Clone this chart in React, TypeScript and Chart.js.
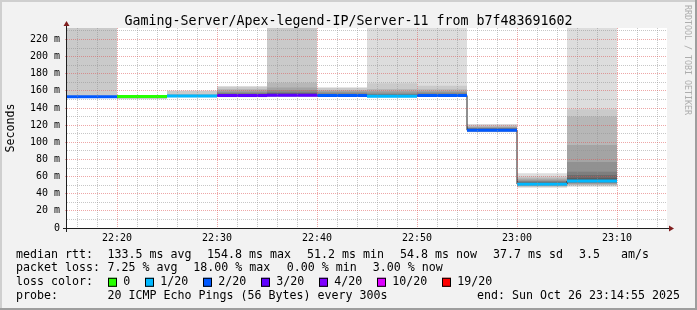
import React, { useEffect, useRef } from 'react';
import { Chart, registerables } from 'chart.js';

Chart.register(...registerables);

// ---------------- data ----------------
const title = 'Gaming-Server/Apex-legend-IP/Server-11 from b7f483691602';
const yAxisTitle = 'Seconds';
const watermark = 'RRDTOOL / TOBI OETIKER';

const axisStart = '22:15';
const axisEnd = '23:15';
const stepMinutes = 5;
const stepStarts = ['22:15', '22:20', '22:25', '22:30', '22:35', '22:40', '22:45', '22:50', '22:55', '23:00', '23:05'];

// median RTT per step (ms)
const medianRtt = [153.2, 153.5, 154.0, 154.5, 154.8, 154.5, 153.7, 154.6, 114.1, 51.2, 54.8];
// lost pings per step (of 20)
const lossCount = [2, 0, 1, 3, 3, 2, 1, 2, 2, 1, 1];

// sorted ping RTTs per step (ms), 20 per step; values past the top are clipped
const step01Pings = [152.2, 152.4, 152.6, 152.8, 152.9, 153.0, 153.1, 153.1, 153.2, 153.2, 153.2, 153.3, 153.3, 153.4, 153.5, 153.6, 153.8, 154.0, 260, 260];
const step02Pings = [150.3, 150.8, 151.3, 151.8, 152.3, 152.8, 153.1, 153.3, 153.4, 153.5, 153.5, 153.6, 153.7, 153.8, 153.9, 154.0, 154.1, 154.2, 154.4, 154.6];
const step03Pings = [152.6, 152.8, 153.0, 153.2, 153.4, 153.5, 153.6, 153.8, 153.9, 154.0, 154.0, 154.2, 154.4, 154.6, 154.8, 155.0, 155.4, 156.5, 160.0, 160.6];
const step04Pings = [152.5, 152.8, 153.2, 153.5, 153.8, 154.0, 154.2, 154.3, 154.4, 154.5, 154.5, 154.6, 155.5, 156.5, 157.5, 159.0, 160.5, 162.2, 164.5, 165.7];
const step05Pings = [153.0, 153.3, 153.6, 153.9, 154.2, 154.4, 154.6, 154.7, 154.8, 154.8, 154.8, 155.0, 156.0, 157.5, 159.0, 161.0, 164.0, 169.6, 260, 260];
const step06Pings = [153.0, 153.3, 153.6, 153.9, 154.1, 154.2, 154.3, 154.4, 154.5, 154.5, 154.5, 154.6, 155.2, 156.0, 157.0, 158.5, 160.0, 161.0, 163.5, 164.3];
const step07Pings = [152.8, 153.0, 153.2, 153.3, 153.4, 153.5, 153.6, 153.6, 153.7, 153.7, 153.7, 153.8, 154.5, 155.5, 156.5, 158.0, 160.0, 162.2, 168.8, 260];
const step08Pings = [153.2, 153.5, 153.8, 154.0, 154.2, 154.3, 154.4, 154.5, 154.6, 154.6, 154.6, 154.7, 155.3, 156.0, 157.0, 158.5, 160.0, 162.0, 166.0, 260];
const step09Pings = [111.6, 111.9, 112.3, 112.8, 113.2, 113.5, 113.8, 114.0, 114.1, 114.1, 114.1, 114.3, 115.0, 115.8, 116.3, 117.0, 118.0, 119.0, 120.5, 121.4];
const step10Pings = [47.0, 47.8, 48.6, 49.3, 49.8, 50.3, 50.7, 51.0, 51.1, 51.2, 51.2, 51.5, 52.5, 53.5, 54.5, 55.5, 56.8, 58.5, 60.0, 63.8];
const step11Pings = [48.2, 49.3, 50.3, 51.2, 52.0, 52.8, 53.4, 53.9, 54.3, 54.6, 55.0, 56.0, 58.0, 61.8, 65.7, 77.0, 97.0, 130.0, 138.5, 260];
const pingsByStep = [step01Pings, step02Pings, step03Pings, step04Pings, step05Pings, step06Pings, step07Pings, step08Pings, step09Pings, step10Pings, step11Pings];

const yMin = 0;
const yMax = 233.4;
const yMajorStep = 20;
const yMinorStep = 10;
const xMajorStep = 10;
const xMinorStep = 2;

const lossLabels = ['0', '1/20', '2/20', '3/20', '4/20', '10/20', '19/20'];
const lossThresholds = [0, 1, 2, 3, 4, 10, 19];
const lossColors = ['#26ff00', '#00b8ff', '#0059ff', '#5e00ff', '#7e00ff', '#dd00ff', '#ff0000'];
const smokeShades = ['#dddddd', '#cacaca', '#b7b7b7', '#a4a4a4', '#919191', '#7e7e7e', '#6b6b6b', '#585858', '#454545', '#323232'];

const rttLabel = 'median rtt:';
const rttStats = ['133.5 ms avg', '154.8 ms max', '51.2 ms min', '54.8 ms now', '37.7 ms sd', '3.5', 'am/s'];
const lossLabel = 'packet loss:';
const lossStats = ['7.25 % avg', '18.00 % max', '0.00 % min', '3.00 % now'];
const lossColorLabel = 'loss color:';
const probeLabel = 'probe:';
const probeText = '20 ICMP Echo Pings (56 Bytes) every 300s';
const endText = 'end: Sun Oct 26 23:14:55 2025';

// ---------------- helpers ----------------
const toMinutes = (t: string) => {
  const [h, m] = t.split(':').map(Number);
  return h * 60 + m;
};
const fmtTime = (v: number) => {
  const h = Math.floor(v / 60);
  const m = Math.round(v % 60);
  return `${String(h).padStart(2, '0')}:${String(m).padStart(2, '0')}`;
};
const bucketOf = (loss: number) => {
  let b = 0;
  lossThresholds.forEach((t, i) => {
    if (loss >= t) b = i;
  });
  return b;
};
// ticks on whole multiples of the step, strictly inside the axis range
const multiplesInside = (lo: number, hi: number, step: number, includeLo: boolean) => {
  const out: { value: number }[] = [];
  for (let v = Math.ceil(lo / step) * step; v < hi - 1e-9; v += step) {
    if (v > lo || includeLo) out.push({ value: v });
  }
  return out;
};

const MONO = "'DejaVu Sans Mono'";
const AXIS_FONT = 9.97;
const LEGEND_FONT = 11.63;
const TITLE_FONT = 13.29;
const WATERMARK_FONT = 8.3;

const MAJOR_GRID = 'rgba(222,79,79,0.5)';
const MINOR_GRID = 'rgba(143,143,143,0.5)';

const rrdPlugin = {
  id: 'rrdFrame',
  beforeDraw(chart: any) {
    const { ctx, width, height, chartArea: a } = chart;
    ctx.save();
    ctx.fillStyle = '#f2f2f2';
    ctx.fillRect(0, 0, width, height);
    ctx.fillStyle = '#cfcfcf';
    ctx.fillRect(0, 0, width, 2);
    ctx.fillRect(0, 0, 2, height);
    ctx.fillStyle = '#9e9e9e';
    ctx.fillRect(0, height - 2, width, 2);
    ctx.fillRect(width - 2, 0, 2, height);
    ctx.fillStyle = '#ffffff';
    ctx.fillRect(a.left, a.top, a.right - a.left, a.bottom - a.top);
    ctx.restore();
  },
  afterDraw(chart: any) {
    const { ctx, width, chartArea: a } = chart;
    ctx.save();
    // axes
    const ax = a.left - 0.5;
    const ay = a.bottom + 0.5;
    ctx.strokeStyle = '#1f1f1f';
    ctx.lineWidth = 1;
    ctx.beginPath();
    ctx.moveTo(a.left - 4, ay);
    ctx.lineTo(a.right + 4, ay);
    ctx.stroke();
    ctx.beginPath();
    ctx.moveTo(ax, a.bottom + 4);
    ctx.lineTo(ax, a.top - 4);
    ctx.stroke();
    // arrows
    ctx.fillStyle = '#801f1f';
    ctx.beginPath();
    ctx.moveTo(a.right + 2, ay - 3);
    ctx.lineTo(a.right + 2, ay + 3);
    ctx.lineTo(a.right + 7, ay);
    ctx.closePath();
    ctx.fill();
    ctx.beginPath();
    ctx.moveTo(ax - 3, a.top - 2);
    ctx.lineTo(ax + 3, a.top - 2);
    ctx.lineTo(ax, a.top - 7);
    ctx.closePath();
    ctx.fill();

    // title
    ctx.fillStyle = '#000';
    ctx.font = `${TITLE_FONT}px ${MONO}`;
    ctx.textAlign = 'center';
    ctx.textBaseline = 'alphabetic';
    ctx.fillText(title, width / 2, 25);

    // y axis title
    ctx.save();
    ctx.translate(10.8, (a.top + a.bottom) / 2);
    ctx.rotate(-Math.PI / 2);
    ctx.font = `${LEGEND_FONT}px ${MONO}`;
    ctx.textAlign = 'center';
    ctx.textBaseline = 'middle';
    ctx.fillText(yAxisTitle, 0, 0);
    ctx.restore();

    // watermark
    ctx.save();
    ctx.translate(687.5, 60);
    ctx.rotate(Math.PI / 2);
    ctx.font = `${WATERMARK_FONT}px ${MONO}`;
    ctx.fillStyle = '#adadad';
    ctx.textAlign = 'center';
    ctx.textBaseline = 'middle';
    ctx.fillText(watermark, 0, 0);
    ctx.restore();

    // legend
    ctx.font = `${LEGEND_FONT}px ${MONO}`;
    ctx.fillStyle = '#000';
    ctx.textAlign = 'left';
    ctx.textBaseline = 'middle';
    const row1 = 254.7, row2 = 268.3, row3 = 282.3, row4 = 296;
    const r1x = [107.6, 207, 307, 400, 493, 579, 621];
    ctx.fillText(rttLabel, 16, row1);
    rttStats.forEach((s, i) => ctx.fillText(s, r1x[i], row1));
    const r2x = [107.6, 193.3, 286.7, 372.7];
    ctx.fillText(lossLabel, 16, row2);
    lossStats.forEach((s, i) => ctx.fillText(s, r2x[i], row2));
    ctx.fillText(lossColorLabel, 16, row3);
    const boxX = [108, 145, 203, 261, 319, 377, 442];
    lossLabels.forEach((l, i) => {
      ctx.fillStyle = lossColors[i];
      ctx.fillRect(boxX[i], row3 - 4.5, 9, 9);
      ctx.strokeStyle = '#000';
      ctx.lineWidth = 1;
      ctx.strokeRect(boxX[i] + 0.5, row3 - 4.5 + 0.5, 8, 8);
      ctx.fillStyle = '#000';
      ctx.fillText(l, boxX[i] + 15.3, row3);
    });
    ctx.fillText(probeLabel, 16, row4);
    ctx.fillText(probeText, 107.6, row4);
    ctx.textAlign = 'right';
    ctx.fillText(endText, 680, row4);
    ctx.restore();
  },
};

export default function App() {
  const ref = useRef<HTMLCanvasElement>(null);

  useEffect(() => {
    document.body.style.margin = '0';
    const canvas = ref.current;
    if (!canvas) return;

    const starts = stepStarts.map(toMinutes);
    const xMin = toMinutes(axisStart);
    const xMax = toMinutes(axisEnd);

    const smokeSets = smokeShades.map((shade, k) => ({
      type: 'bar' as const,
      data: starts.map((s, i) => ({
        x: s + stepMinutes / 2,
        y: [pingsByStep[i][k], pingsByStep[i][19 - k]],
      })),
      backgroundColor: shade,
      borderWidth: 0,
      grouped: false,
      barPercentage: 1,
      categoryPercentage: 1,
      inflateAmount: 0,
      order: 100 - k,
    }));

    const medianStep = {
      type: 'line' as const,
      data: [
        ...starts.map((s, i) => ({ x: s, y: medianRtt[i] })),
        { x: starts[starts.length - 1] + stepMinutes, y: medianRtt[medianRtt.length - 1] },
      ],
      borderColor: '#1f1f1f',
      borderWidth: 1,
      pointRadius: 0,
      stepped: true,
      fill: false,
      order: 10,
    };

    const lossLines = lossColors.map((color, b) => {
      const pts: { x: number; y: number | null }[] = [];
      starts.forEach((s, i) => {
        if (bucketOf(lossCount[i]) === b) {
          pts.push({ x: s, y: medianRtt[i] });
          pts.push({ x: s + stepMinutes, y: medianRtt[i] });
          pts.push({ x: s + stepMinutes, y: null });
        }
      });
      return {
        type: 'line' as const,
        data: pts,
        borderColor: color,
        borderWidth: 3,
        pointRadius: 0,
        spanGaps: false,
        fill: false,
        order: 5,
      };
    });

    const chart = new Chart(canvas, {
      type: 'bar',
      data: { datasets: [...smokeSets, medianStep, ...lossLines] as any },
      plugins: [rrdPlugin],
      options: {
        animation: false,
        responsive: false,
        events: [],
        layout: { padding: { left: 0, right: 30, top: 28, bottom: 0 } },
        plugins: { legend: { display: false }, tooltip: { enabled: false }, title: { display: false } },
        scales: {
          x: {
            type: 'linear',
            min: xMin,
            max: xMax,
            offset: false,
            afterBuildTicks: (s: any) => {
              s.ticks = multiplesInside(xMin, xMax, xMajorStep, false);
            },
            ticks: {
              autoSkip: false,
              maxRotation: 0,
              padding: 4,
              color: '#000',
              font: { family: MONO, size: AXIS_FONT },
              callback: (v: any) => fmtTime(Number(v)),
            },
            grid: { color: MAJOR_GRID, lineWidth: 1, drawTicks: false, offset: false, z: 1 },
            border: { display: false, dash: [1, 1] },
            afterFit: (s: any) => {
              s.height = 82;
            },
          },
          x2: {
            type: 'linear',
            position: 'bottom',
            min: xMin,
            max: xMax,
            offset: false,
            afterBuildTicks: (s: any) => {
              s.ticks = multiplesInside(xMin, xMax, xMinorStep, false).filter((t) => t.value % xMajorStep !== 0);
            },
            ticks: { display: false, autoSkip: false },
            grid: { color: MINOR_GRID, lineWidth: 1, drawTicks: false, offset: false, z: 1 },
            border: { display: false, dash: [1, 1] },
            afterFit: (s: any) => {
              s.height = 0;
            },
          },
          y: {
            type: 'linear',
            min: yMin,
            max: yMax,
            afterBuildTicks: (s: any) => {
              s.ticks = multiplesInside(yMin, yMax, yMajorStep, true);
            },
            ticks: {
              autoSkip: false,
              padding: 5,
              color: '#000',
              font: { family: MONO, size: AXIS_FONT },
              callback: (v: any) => (Number(v) === 0 ? '0' : `${v} m`),
            },
            grid: {
              color: (c: any) => (c.tick && c.tick.value === yMin ? 'rgba(0,0,0,0)' : MAJOR_GRID),
              lineWidth: 1,
              drawTicks: true,
              tickLength: 2,
              tickColor: MAJOR_GRID,
              z: 1,
            },
            border: { display: false, dash: [1, 1] },
            afterFit: (s: any) => {
              s.width = 67;
            },
          },
          y2: {
            type: 'linear',
            position: 'left',
            min: yMin,
            max: yMax,
            afterBuildTicks: (s: any) => {
              s.ticks = multiplesInside(yMin, yMax, yMinorStep, false).filter((t) => t.value % yMajorStep !== 0);
            },
            ticks: { display: false, autoSkip: false },
            grid: { color: MINOR_GRID, lineWidth: 1, drawTicks: false, z: 1 },
            border: { display: false, dash: [1, 1] },
            afterFit: (s: any) => {
              s.width = 0;
            },
          },
        },
      } as any,
    });

    return () => chart.destroy();
  }, []);

  return <canvas ref={ref} width={697} height={310} style={{ display: 'block', width: 697, height: 310 }} />;
}
